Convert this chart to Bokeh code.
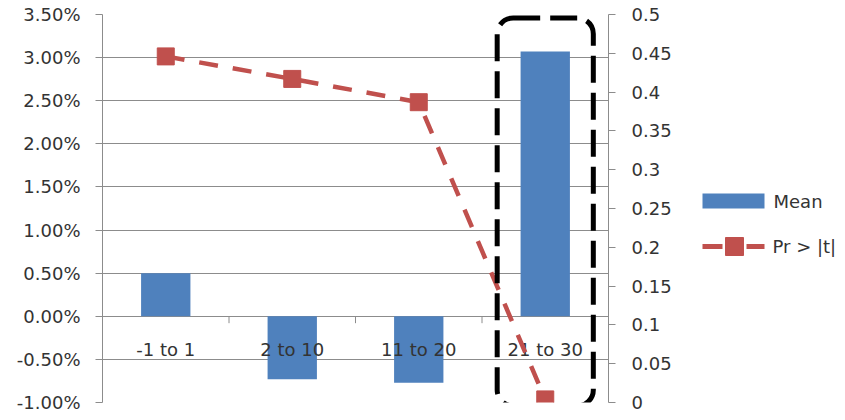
from bokeh.plotting import figure
from bokeh.layouts import row
from bokeh.models import (Range1d, LinearAxis, FixedTicker, NumeralTickFormatter,
                          CustomJSTickFormatter, BoxAnnotation)
from bokeh.core.properties import value
from bokeh.embed import file_html
from bokeh.resources import INLINE

categories = ["-1 to 1", "2 to 10", "11 to 20", "21 to 30"]
mean = [0.0050, -0.0073, -0.0077, 0.0307]
pr_t = [0.446, 0.417, 0.387, 0.004]
left_ticks = [-0.01, -0.005, 0.0, 0.005, 0.01, 0.015, 0.02, 0.025, 0.03, 0.035]
right_ticks = [0.0, 0.05, 0.1, 0.15, 0.2, 0.25, 0.3, 0.35, 0.4, 0.45, 0.5]
right_labels = ["0", "0.05", "0.1", "0.15", "0.2", "0.25", "0.3", "0.35", "0.4", "0.45", "0.5"]
series_names = ["Mean", "Pr > |t|"]
highlight = 3

FONT = "DejaVu Sans"
TXT = "#333333"
GRID = "#8c8c8c"
BLUE = "#4F81BD"
RED = "#C0504D"
H = 412
TOP = 14

n = len(categories)
centers = [i + 0.5 for i in range(n)]
bounds = list(range(1, n))

p = figure(frame_width=506, frame_height=388, output_backend="svg", toolbar_location=None,
           x_range=Range1d(0, n), y_range=Range1d(left_ticks[0], left_ticks[-1]),
           min_border_left=102, min_border_top=TOP, min_border_bottom=H - TOP - 388,
           min_border_right=80)
p.extra_y_ranges = {"pr": Range1d(right_ticks[0], right_ticks[-1])}
p.outline_line_color = None
p.xaxis.visible = False
p.xgrid.visible = False
p.ygrid.ticker = FixedTicker(ticks=left_ticks)
p.ygrid.grid_line_color = GRID
p.ygrid.grid_line_width = 1

ya = p.yaxis[0]
ya.ticker = FixedTicker(ticks=left_ticks)
ya.formatter = NumeralTickFormatter(format="0.00%")
ya.axis_line_color = GRID
ya.major_tick_line_color = GRID
ya.major_tick_out = 7
ya.major_tick_in = 0
ya.minor_tick_line_color = None
ya.major_label_standoff = 15
ya.major_label_text_font = FONT
ya.major_label_text_font_size = "18px"
ya.major_label_text_color = TXT

ra = LinearAxis(y_range_name="pr", ticker=FixedTicker(ticks=right_ticks),
                formatter=CustomJSTickFormatter(args=dict(tvals=right_ticks, tlabels=right_labels),
                    code="const i = tvals.findIndex(t => Math.abs(t - tick) < 1e-9); return i >= 0 ? tlabels[i] : '';"))
ra.axis_line_color = GRID
ra.major_tick_line_color = GRID
ra.major_tick_out = 7
ra.major_tick_in = 0
ra.minor_tick_line_color = None
ra.major_label_standoff = 16
ra.major_label_text_font = FONT
ra.major_label_text_font_size = "18px"
ra.major_label_text_color = TXT
p.add_layout(ra, "right")

bars = p.vbar(x=centers, top=mean, bottom=0, width=0.39, fill_color=BLUE, line_color=None)

# category axis drawn along zero line
p.segment(x0=bounds, y0=[0] * len(bounds), x1=bounds, y1=[-0.0008] * len(bounds),
          line_color=GRID, line_width=1)
p.text(x=centers, y=[0] * n, text=categories, y_offset=33, text_align="center",
       text_baseline="middle", text_font=value(FONT), text_font_size="18px", text_color=TXT)

line = p.line(x=centers, y=pr_t, y_range_name="pr", line_color=RED, line_width=4.5,
              line_dash="19 15")
marks = p.scatter(x=centers, y=pr_t, y_range_name="pr", marker="square", size=17,
                  fill_color=RED, line_color=RED)

box = BoxAnnotation(left=highlight + 0.12, right=highlight + 0.88,
                    top=left_ticks[-1] - 0.0004, bottom=left_ticks[0] - 0.0004,
                    fill_alpha=0, line_color="black", line_alpha=1, line_width=5,
                    line_dash="27 10", border_radius=16)
p.add_layout(box)

# legend panel (pixel coordinates, y downward)
LW = 149
dy = TOP - 19
lg = figure(frame_width=LW, frame_height=H, output_backend="svg", toolbar_location=None,
            x_range=Range1d(0, LW), y_range=Range1d(H, 0),
            min_border_left=0, min_border_right=0, min_border_top=0, min_border_bottom=0)
lg.axis.visible = False
lg.grid.visible = False
lg.outline_line_color = None
lg.quad(left=[14], right=[76], top=[184 + dy], bottom=[199 + dy], fill_color=BLUE, line_color=None)
lg.segment(x0=[14, 58], y0=[237 + dy] * 2, x1=[34, 76], y1=[237 + dy] * 2,
           line_color=RED, line_width=5)
lg.scatter(x=[46], y=[237 + dy], marker="square", size=18, fill_color=RED, line_color=RED)
lg.text(x=[85, 84], y=[191.5 + dy, 237 + dy], text=series_names, text_align="left",
        text_baseline="middle", text_font=value(FONT), text_font_size="18px", text_color=TXT)

layout = row(p, lg)
open("out.html", "w").write(file_html(layout, INLINE))
